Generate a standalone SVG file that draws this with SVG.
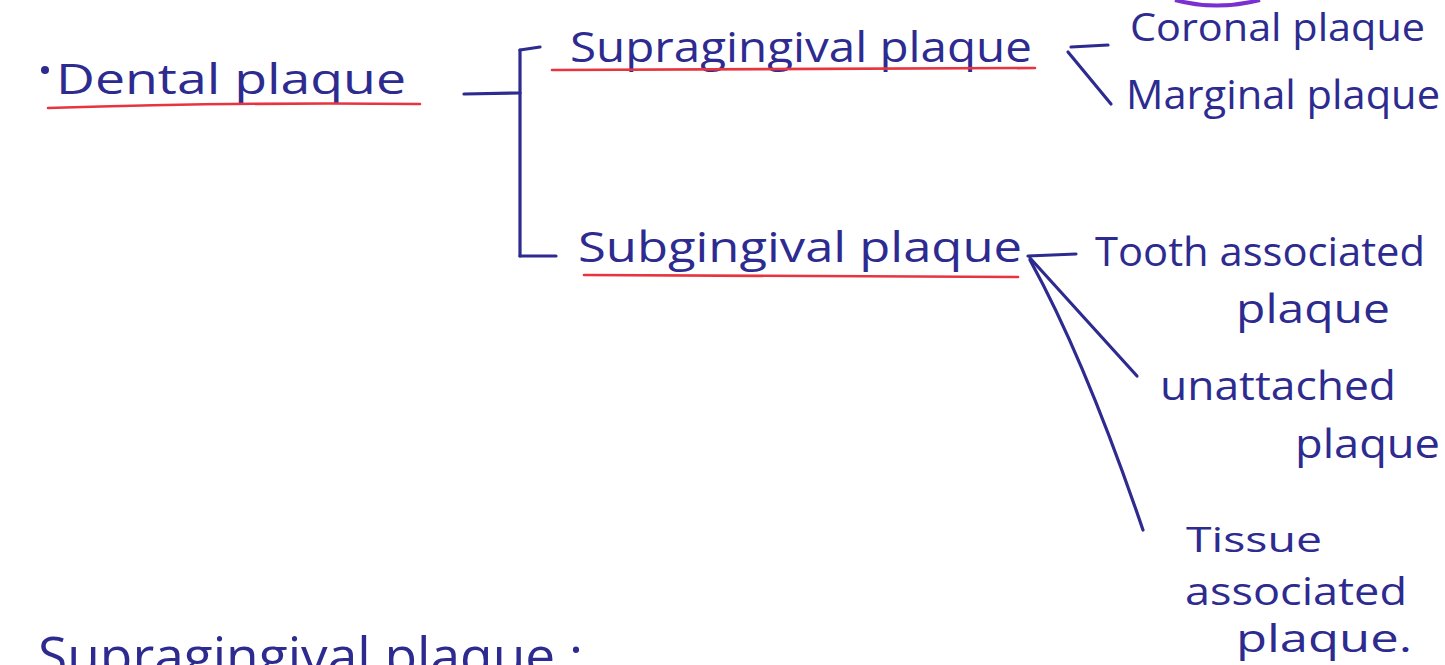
<svg xmlns="http://www.w3.org/2000/svg" width="1445" height="665" viewBox="0 0 1445 665">
  <style>
    .ink { font-family: "Open Sans", "Liberation Sans", sans-serif; fill: #2d2b8f; }
    .line { stroke: #2d2b8f; stroke-width: 3.2; fill: none; stroke-linecap: round; stroke-linejoin: round; }
    .under { stroke: #e8343f; stroke-width: 2.6; fill: none; stroke-linecap: round; }
  </style>
  <rect width="1445" height="665" fill="#ffffff"/>

  <!-- purple circle edge at the top margin -->
  <path d="M1175,0 Q1216,11 1260,0" stroke="#7a2fd0" stroke-width="4" fill="none"/>

  <!-- connectors -->
  <g id="connectors">
    <path class="line" d="M464,94 L520,93"/>
    <path class="line" d="M520,50 L520,256"/>
    <path class="line" d="M520,50 L540,47"/>
    <path class="line" d="M520,256 L556,256"/>
    <path class="line" d="M1071,47 L1108,45"/>
    <path class="line" d="M1068,52 L1111,104"/>
    <path class="line" d="M1028,256 L1076,254"/>
    <path class="line" d="M1030,258 L1137,376"/>
    <path class="line" d="M1030,260 Q1085,360 1143,530"/>
  </g>

  <g id="dental-plaque">
    <circle cx="45" cy="70" r="4" fill="#2d2b8f"/>
    <text class="ink" x="56" y="94" font-size="42" textLength="350" lengthAdjust="spacingAndGlyphs">Dental plaque</text>
    <path class="under" d="M48,108 Q240,102 420,104"/>
  </g>

  <g id="supragingival">
    <text class="ink" x="570" y="62" font-size="42" textLength="462" lengthAdjust="spacingAndGlyphs">Supragingival plaque</text>
    <path class="under" d="M552,70 L1035,68"/>
  </g>

  <g id="coronal">
    <text class="ink" x="1130" y="41" font-size="38" textLength="295" lengthAdjust="spacingAndGlyphs">Coronal plaque</text>
  </g>

  <g id="marginal">
    <text class="ink" x="1126" y="109" font-size="40" textLength="314" lengthAdjust="spacingAndGlyphs">Marginal plaque</text>
  </g>

  <g id="subgingival">
    <text class="ink" x="578" y="262" font-size="42" textLength="444" lengthAdjust="spacingAndGlyphs">Subgingival plaque</text>
    <path class="under" d="M584,275 L1018,277"/>
  </g>

  <g id="tooth-associated">
    <text class="ink" x="1095" y="266" font-size="40" textLength="330" lengthAdjust="spacingAndGlyphs">Tooth associated</text>
    <text class="ink" x="1236" y="323" font-size="40" textLength="154" lengthAdjust="spacingAndGlyphs">plaque</text>
  </g>

  <g id="unattached">
    <text class="ink" x="1160" y="400" font-size="40" textLength="236" lengthAdjust="spacingAndGlyphs">unattached</text>
    <text class="ink" x="1295" y="458" font-size="40" textLength="145" lengthAdjust="spacingAndGlyphs">plaque</text>
  </g>

  <g id="tissue-associated">
    <text class="ink" x="1186" y="552" font-size="34" textLength="136" lengthAdjust="spacingAndGlyphs">Tissue</text>
    <text class="ink" x="1185" y="605" font-size="38" textLength="222" lengthAdjust="spacingAndGlyphs">associated</text>
    <text class="ink" x="1236" y="652" font-size="38" textLength="176" lengthAdjust="spacingAndGlyphs">plaque.</text>
  </g>

  <g id="heading-supragingival">
    <text class="ink" x="38" y="674" font-size="52" textLength="545" lengthAdjust="spacingAndGlyphs">Supragingival plaque :</text>
  </g>
</svg>
